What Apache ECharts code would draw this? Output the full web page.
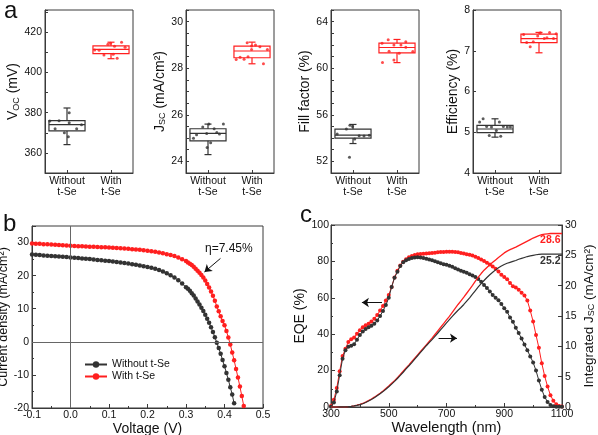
<!DOCTYPE html>
<html><head><meta charset="utf-8">
<script src="https://cdn.jsdelivr.net/npm/echarts@6/dist/echarts.min.js"></script>
<style>html,body{margin:0;padding:0;background:#fff}#c{width:598px;height:435px}</style>
</head><body><div id="c"></div><script>
const FONT = "'Liberation Sans', Arial, Helvetica, sans-serif";
const BLACK = '#333333';
const RED = '#ff1f1f';
const AXIS = '#3a3a3a';
const TXT = '#111111';

// ---------- panel a ----------
const groupLabels = ['Without\nt-Se', 'With\nt-Se'];
// box stats: [min, Q1, median, Q3, max]
const vocBox = [[364.1, 370.9, 374.0, 376.0, 382.3], [406.8, 409.3, 411.4, 413.2, 415.0]];
const jscBox = [[24.29, 24.88, 25.2, 25.4, 25.6], [28.19, 28.45, 28.74, 28.95, 29.12]];
const ffBox  = [[53.53, 53.99, 54.25, 54.77, 55.17], [60.48, 61.32, 61.78, 62.15, 62.47]];
const effBox = [[4.88, 4.99, 5.08, 5.17, 5.33], [6.95, 7.2, 7.3, 7.41, 7.45]];
// individual devices [x position within group axis 0..2, value]
const vocPtsWithout = [[0.11,375.8],[0.32,376],[0.23,372],[0.55,375],[0.44,370],[0.53,368],[0.72,372],[0.83,374],[0.55,380]];
const vocPtsWith = [[1.13,411.1],[1.23,411],[1.34,408.6],[1.43,414],[1.49,414.5],[1.58,413],[1.64,407.0],[1.74,415],[1.82,412.5],[1.55,409]];
const jscPtsWithout = [[0.17,24.99],[0.24,25.14],[0.38,25.48],[0.48,24.6],[0.56,24.8],[0.47,25.2],[0.64,25.4],[0.7,25.24],[0.76,25.18],[0.85,25.6],[0.52,25.6]];
const jscPtsWith = [[1.14,28.37],[1.23,28.47],[1.32,28.39],[1.41,28.49],[1.39,29.09],[1.49,28.95],[1.58,29.0],[1.49,28.8],[1.68,28.92],[1.85,28.8],[1.76,28.19]];
const ffPtsWithout = [[0.14,54.34],[0.35,54.77],[0.49,55.0],[0.43,55.1],[0.54,53.93],[0.64,54.2],[0.75,54.17],[0.87,54.25],[0.42,52.35]];
const ffPtsWith = [[1.17,60.5],[1.16,62.15],[1.3,62.44],[1.32,61.46],[1.43,62.0],[1.43,60.7],[1.55,61.29],[1.59,62.0],[1.7,61.8],[1.7,62.27],[1.86,61.43]];
const effPtsWithout = [[0.15,5.25],[0.23,5.33],[0.31,5.14],[0.42,5.13],[0.53,5.04],[0.63,4.9],[0.69,5.14],[0.78,5.13],[0.85,5.13],[0.6,5.25],[0.37,4.92]];
const effPtsWith = [[1.15,7.4],[1.22,7.2],[1.3,7.1],[1.37,7.22],[1.47,7.36],[1.53,7.44],[1.62,7.3],[1.74,7.45],[1.83,7.3],[1.89,7.42],[1.68,7.32]];

// ---------- panel b (J-V) ----------
const jvVoltage = [-0.10,-0.09,-0.08,-0.07,-0.06,-0.05,-0.04,-0.03,-0.02,-0.01,0.00,0.01,0.02,0.03,0.04,0.05,0.06,0.07,0.08,0.09,0.10,0.11,0.12,0.13,0.14,0.15,0.16,0.17,0.18,0.19,0.20,0.21,0.22,0.23,0.24,0.25,0.26,0.27,0.28,0.29,
  0.300,0.305,0.310,0.315,0.320,0.325,0.330,0.335,0.340,0.345,0.350,0.355,0.360,0.365,0.370,0.375,0.380,0.385,0.390,0.395,0.400,0.405,0.410,0.415,0.420,0.425,0.430,0.435,0.440,0.445,0.450];
const jvWithout = [26.4,26.3,26.2,26.1,26.0,25.95,25.85,25.75,25.7,25.6,
  25.5,25.4,25.3,25.2,25.1,25.0,24.9,24.75,24.65,24.5,
  24.4,24.25,24.1,23.95,23.8,23.65,23.45,23.3,23.1,22.85,
  22.6,22.35,22.05,21.7,21.25,20.7,20.1,19.4,18.6,17.6,
  16.5,16.0,15.4,14.7,14.0,13.1,12.2,11.3,10.3,9.3,8.2,7.0,5.8,4.4,3.0,1.4,-0.3,-1.9,-3.6,-5.5,-7.4,-9.4,-11.5,-13.7,-15.9,-18.6,null,null,null,null,null];
const jvWith = [29.7,29.65,29.6,29.5,29.45,29.4,29.3,29.25,29.2,29.1,
  29.0,28.95,28.9,28.85,28.8,28.75,28.7,28.65,28.6,28.55,
  28.5,28.4,28.35,28.25,28.2,28.1,28.0,27.9,27.8,27.65,
  27.5,27.35,27.2,27.0,26.8,26.5,26.2,25.9,25.5,24.95,
  24.4,24.0,23.6,23.2,22.7,22.1,21.5,20.9,20.2,19.4,18.5,17.5,16.4,15.2,13.9,12.4,10.7,9.2,7.7,6.3,5.0,3.3,1.3,-0.8,-3.2,-5.6,-8.2,-10.8,-13.5,-16.4,-19.4];

// ---------- panel c (EQE) ----------
const wavelength = [300,310,320,330,340,350,360,370,380,390,400,410,420,430,440,450,460,470,480,490,500,510,520,530,540,550,560,570,580,590,600,610,620,630,640,650,660,670,680,690,700,710,720,730,740,750,760,770,780,790,800,810,820,830,840,850,860,870,880,890,900,910,920,930,940,950,960,970,980,990,1000,1010,1020,1030,1040,1050,1060,1070,1080,1090,1100];
const eqeWith = [0.5,4,10.5,19.6,28,32,35.7,37.2,38.2,40.2,42.2,43.8,44.9,45.8,47,48.5,50.5,53,55.5,58.5,61.5,66,71.2,74.8,77.8,79.8,81.2,82.3,83,83.5,83.9,84.1,84.2,84.3,84.5,84.6,84.8,85,85.1,85.2,85.3,85.3,85.3,85.2,85,84.6,84.3,83.9,83.6,83.2,82.5,81.8,81,80.2,79.3,78.3,77.2,75.9,74.4,72.6,71.4,70.2,68.2,66.4,65.6,64.4,62.8,61.2,58.5,53,47,39.5,32.5,24,17,11.2,6.5,3.5,1.5,0.6,0.3];
const eqeWithout = [0.2,2.5,8.5,17.5,26.5,31.2,33.1,33.6,34.5,37,39.5,41.5,42.8,43.8,44.6,45.7,47.5,50,52.8,56,60,66,71,74.3,77.5,79.5,80.6,81.3,81.8,82.2,82.3,82.1,81.8,81.4,81,80.6,80.1,79.6,79,78.5,78.1,77.6,77,76.3,75.5,74.9,74.3,73.7,73,72.3,71.4,70.3,68.8,67.1,65.4,63.5,61.6,60,58.7,56.6,54.2,52.3,49.2,46.8,43.6,40.6,37.6,34.3,31.2,27.8,24.5,20,14.5,9.5,5.5,2.8,1.1,0.4,0.2,0.1,0.1];
const jscIntWith = [0,0,0,0.01,0.02,0.04,0.07,0.12,0.2,0.3,0.42,0.58,0.8,1.05,1.32,1.62,1.95,2.28,2.65,3.05,3.45,3.9,4.35,4.85,5.35,5.9,6.45,6.95,7.5,8.05,8.6,9.15,9.7,10.25,10.8,11.35,11.95,12.55,13.15,13.75,14.35,14.95,15.6,16.25,16.9,17.5,18.1,18.75,19.4,20.05,20.75,21.4,22.0,22.55,23.0,23.45,23.85,24.25,24.65,25.0,25.4,25.7,25.95,26.15,26.35,26.6,26.85,27.1,27.35,27.6,27.85,28.05,28.25,28.4,28.5,28.55,28.6,28.6,28.6,28.6,28.6];
const jscIntWithout = [0,0,0,0.01,0.02,0.04,0.07,0.11,0.18,0.27,0.39,0.54,0.75,0.99,1.25,1.54,1.86,2.18,2.54,2.93,3.33,3.77,4.22,4.7,5.2,5.73,6.27,6.8,7.33,7.9,8.45,9.0,9.55,10.1,10.6,11.1,11.65,12.2,12.75,13.3,13.85,14.4,14.95,15.45,15.95,16.4,16.9,17.45,18.0,18.6,19.2,19.8,20.35,20.85,21.35,21.8,22.2,22.6,22.95,23.25,23.5,23.7,23.85,24.0,24.15,24.35,24.5,24.65,24.8,24.9,25.0,25.1,25.15,25.2,25.2,25.2,25.2,25.2,25.2,25.2,25.2];

// ---------- build ----------
const grids = [], xAxes = [], yAxes = [], series = [];
const axisLineS = {show: true, onZero: false, lineStyle: {color: AXIS, width: 1}};
const tickS = (len) => ({show: true, inside: true, length: len, lineStyle: {color: AXIS, width: 1}});
const labelS = (extra) => Object.assign({fontFamily: FONT, fontSize: 10.5, color: TXT}, extra || {});
const subRich = {s: {fontFamily: FONT, fontSize: 9, color: TXT, verticalAlign: 'bottom'}};

function boxRenderer(params, api) {
  const x = api.value(0);
  const vals = [1, 2, 3, 4, 5].map(k => api.value(k));
  const color = params.dataIndex === 0 ? BLACK : RED;
  const half = api.size([1, 0])[0] * 0.41;
  const cx = api.coord([x, vals[2]])[0];
  const y = vals.map(v => api.coord([x, v])[1]);
  const cap = 3.5;
  const ls = {stroke: color, lineWidth: 1.2, fill: null};
  return {type: 'group', children: [
    {type: 'rect', shape: {x: cx - half, y: y[3], width: 2 * half, height: y[1] - y[3]}, style: {stroke: color, fill: 'rgba(0,0,0,0)', lineWidth: 1.2}},
    {type: 'line', shape: {x1: cx - half, y1: y[2], x2: cx + half, y2: y[2]}, style: ls},
    {type: 'line', shape: {x1: cx, y1: y[3], x2: cx, y2: y[4]}, style: ls},
    {type: 'line', shape: {x1: cx, y1: y[1], x2: cx, y2: y[0]}, style: ls},
    {type: 'line', shape: {x1: cx - cap, y1: y[4], x2: cx + cap, y2: y[4]}, style: ls},
    {type: 'line', shape: {x1: cx - cap, y1: y[0], x2: cx + cap, y2: y[0]}, style: ls}
  ]};
}

const aLeft = [45, 186, 331, 473];
const aInfo = [
  {name: 'V{s|OC} (mV)', min: 350, max: 431, interval: 10, gap: 24,
   fmt: v => (Math.round(v) % 20 === 0 && Math.abs(v - Math.round(v)) < 1e-6) ? String(Math.round(v)) : '',
   box: vocBox, pw: vocPtsWithout, pr: vocPtsWith},
  {name: 'J{s|SC} (mA/cm²)', min: 23.5, max: 30.5, interval: 0.5, gap: 15,
   fmt: v => { const r = Math.round(v); return (Math.abs(v - r) < 1e-6 && r % 2 === 0) ? String(r) : ''; },
   box: jscBox, pw: jscPtsWithout, pr: jscPtsWith},
  {name: 'Fill factor (%)', min: 51, max: 65, interval: 1, gap: 14,
   fmt: v => { const r = Math.round(v); return ((r - 52) % 4 === 0 && r <= 64) ? String(r) : ''; },
   box: ffBox, pw: ffPtsWithout, pr: ffPtsWith},
  {name: 'Efficiency (%)', min: 4, max: 8, interval: 1, gap: 10,
   fmt: v => String(Math.round(v)),
   box: effBox, pw: effPtsWithout, pr: effPtsWith}
];
aInfo.forEach((p, i) => {
  grids.push({left: aLeft[i], top: 10, width: 88, height: 163, show: true, borderColor: AXIS, borderWidth: 1, backgroundColor: 'rgba(0,0,0,0)', outerBoundsMode: 'none', containLabel: false});
  xAxes.push({type: 'category', gridIndex: i, data: groupLabels, axisLine: axisLineS, axisTick: Object.assign(tickS(3), {alignWithLabel: true}),
    axisLabel: labelS({margin: 3, lineHeight: 11, interval: 0}), splitLine: {show: false}});
  xAxes.push({type: 'value', gridIndex: i, min: 0, max: 2, show: false});
  yAxes.push({type: 'value', gridIndex: i, min: p.min, max: p.max, interval: p.interval,
    name: p.name, nameLocation: 'middle', nameRotate: 90, nameGap: p.gap,
    nameTextStyle: {fontFamily: FONT, fontSize: 14, color: TXT, rich: subRich},
    axisLine: axisLineS, axisTick: tickS(3), axisLabel: labelS({margin: 3, formatter: p.fmt, showMinLabel: true, showMaxLabel: true}),
    splitLine: {show: false}});
  series.push({type: 'custom', name: 'box' + i, xAxisIndex: 2 * i + 1, yAxisIndex: i,
    data: p.box.map((b, k) => [k + 0.5].concat(b)), encode: {x: 0, y: [1, 2, 3, 4, 5]},
    renderItem: boxRenderer, silent: true, z: 2});
  series.push({type: 'scatter', name: 'ptsW' + i, xAxisIndex: 2 * i + 1, yAxisIndex: i, data: p.pw,
    symbol: 'circle', symbolSize: 3, itemStyle: {color: BLACK}, silent: true, z: 3});
  series.push({type: 'scatter', name: 'ptsR' + i, xAxisIndex: 2 * i + 1, yAxisIndex: i, data: p.pr,
    symbol: 'circle', symbolSize: 3, itemStyle: {color: RED}, silent: true, z: 3});
});

// panel b
grids.push({left: 32, top: 226, width: 231, height: 182, show: true, borderColor: AXIS, borderWidth: 1, backgroundColor: 'rgba(0,0,0,0)', outerBoundsMode: 'none', containLabel: false});
xAxes.push({type: 'value', gridIndex: 4, min: -0.1, max: 0.5, interval: 0.1,
  name: 'Voltage (V)', nameLocation: 'middle', nameGap: 12, nameTextStyle: {fontFamily: FONT, fontSize: 14, color: TXT},
  axisLine: axisLineS, axisTick: tickS(4), minorTick: {show: true, splitNumber: 2, length: 2, lineStyle: {color: AXIS}},
  axisLabel: labelS({margin: 2, formatter: v => v.toFixed(1), showMinLabel: true, showMaxLabel: true}), splitLine: {show: false}});
yAxes.push({type: 'value', gridIndex: 4, min: -20, max: 35, interval: 10,
  name: 'Current density (mA/cm²)', nameLocation: 'middle', nameRotate: 90, nameGap: 16,
  nameTextStyle: {fontFamily: FONT, fontSize: 12.5, color: TXT},
  axisLine: axisLineS, axisTick: tickS(4), minorTick: {show: true, splitNumber: 2, length: 2, lineStyle: {color: AXIS}},
  axisLabel: labelS({margin: 3, formatter: v => (v > 30 ? '' : String(v))}), splitLine: {show: false}});
const pairs = (xs, ys) => xs.map((x, k) => [x, ys[k]]).filter(p => p[1] !== null);
series.push({type: 'line', name: 'Without t-Se', xAxisIndex: 8, yAxisIndex: 4, data: pairs(jvVoltage, jvWithout),
  symbol: 'circle', symbolSize: 4.5, showSymbol: true, showAllSymbol: true,
  lineStyle: {color: BLACK, width: 1}, itemStyle: {color: BLACK}, z: 3,
  markLine: {silent: true, symbol: ['none', 'none'], label: {show: false}, animation: false,
    lineStyle: {color: '#666', width: 1, type: 'solid'}, emphasis: {disabled: true},
    data: [{xAxis: 0}, {yAxis: 0}]}});
series.push({type: 'line', name: 'With t-Se', xAxisIndex: 8, yAxisIndex: 4, data: pairs(jvVoltage, jvWith),
  symbol: 'circle', symbolSize: 4.5, showSymbol: true, showAllSymbol: true,
  lineStyle: {color: RED, width: 1}, itemStyle: {color: RED}, z: 4,
  markLine: {silent: true, symbol: ['none', 'arrow'], symbolSize: 7, label: {show: false}, animation: false,
    lineStyle: {color: TXT, width: 1, type: 'solid'}, emphasis: {disabled: true},
    data: [[{coord: [0.3895, 25.2]}, {coord: [0.348, 21.1]}]]}});

// panel c
grids.push({left: 331, top: 225, width: 231, height: 182, show: true, borderColor: AXIS, borderWidth: 1, backgroundColor: 'rgba(0,0,0,0)', outerBoundsMode: 'none', containLabel: false});
xAxes.push({type: 'value', gridIndex: 5, min: 300, max: 1100, interval: 200,
  name: 'Wavelength (nm)', nameLocation: 'middle', nameGap: 12, nameTextStyle: {fontFamily: FONT, fontSize: 14.5, color: TXT},
  axisLine: axisLineS, axisTick: tickS(4), minorTick: {show: true, splitNumber: 2, length: 2, lineStyle: {color: AXIS}},
  axisLabel: labelS({margin: 2, formatter: v => String(v), showMinLabel: true, showMaxLabel: true}), splitLine: {show: false}});
yAxes.push({type: 'value', gridIndex: 5, min: 0, max: 100, interval: 20,
  name: 'EQE (%)', nameLocation: 'middle', nameRotate: 90, nameGap: 18,
  nameTextStyle: {fontFamily: FONT, fontSize: 14, color: TXT},
  axisLine: axisLineS, axisTick: tickS(4), minorTick: {show: true, splitNumber: 2, length: 2, lineStyle: {color: AXIS}},
  axisLabel: labelS({margin: 2}), splitLine: {show: false}});
yAxes.push({type: 'value', gridIndex: 5, position: 'right', min: 0, max: 30, interval: 5,
  name: 'Integrated J{s|SC} (mA/cm²)', nameLocation: 'middle', nameRotate: 90, nameGap: 20,
  nameTextStyle: {fontFamily: FONT, fontSize: 13.5, color: TXT, rich: subRich},
  axisLine: axisLineS, axisTick: tickS(4),
  axisLabel: labelS({margin: 3}), splitLine: {show: false}});
series.push({type: 'line', name: 'EQE with', xAxisIndex: 9, yAxisIndex: 5, data: pairs(wavelength, eqeWith),
  symbol: 'circle', symbolSize: 4, showSymbol: true, showAllSymbol: true,
  lineStyle: {color: RED, width: 1}, itemStyle: {color: RED}, z: 3,
  markLine: {silent: true, symbol: ['none', 'arrow'], symbolSize: 7, label: {show: false}, animation: false,
    lineStyle: {color: TXT, width: 1, type: 'solid'}, emphasis: {disabled: true},
    data: [[{coord: [476.6, 57.4]}, {coord: [407, 57.4]}]]}});
series.push({type: 'line', name: 'EQE without', xAxisIndex: 9, yAxisIndex: 5, data: pairs(wavelength, eqeWithout),
  symbol: 'circle', symbolSize: 4, showSymbol: true, showAllSymbol: true,
  lineStyle: {color: BLACK, width: 1}, itemStyle: {color: BLACK}, z: 4});
series.push({type: 'line', name: 'Jint with', xAxisIndex: 9, yAxisIndex: 6, data: pairs(wavelength, jscIntWith),
  showSymbol: false, lineStyle: {color: RED, width: 1.3}, itemStyle: {color: RED}, z: 5,
  markLine: {silent: true, symbol: ['none', 'arrow'], symbolSize: 7, label: {show: false}, animation: false,
    lineStyle: {color: TXT, width: 1, type: 'solid'}, emphasis: {disabled: true},
    data: [[{coord: [672.6, 11.35]}, {coord: [736.3, 11.35]}]]}});
series.push({type: 'line', name: 'Jint without', xAxisIndex: 9, yAxisIndex: 6, data: pairs(wavelength, jscIntWithout),
  showSymbol: false, lineStyle: {color: BLACK, width: 1.2}, itemStyle: {color: BLACK}, z: 5});

function txt(s, x, y, size, opts) {
  return Object.assign({type: 'text', x: x, y: y, silent: true, z: 100,
    style: Object.assign({text: s, fontFamily: FONT, fontSize: size, fill: TXT,
      align: 'left', textAlign: 'left', verticalAlign: 'middle', textVerticalAlign: 'middle'}, opts || {})});
}

const chart = echarts.init(document.getElementById('c'), null, {renderer: 'canvas'});
chart.setOption({
  animation: false,
  backgroundColor: '#fff',
  textStyle: {fontFamily: FONT},
  grid: grids, xAxis: xAxes, yAxis: yAxes, series: series,
  legend: {data: ['Without t-Se', 'With t-Se'], orient: 'vertical', left: 84, top: 359, padding: 0,
    itemWidth: 22, itemHeight: 8, itemGap: 1, selectedMode: false,
    textStyle: {fontFamily: FONT, fontSize: 10.5, color: TXT}},
  graphic: [
    txt('a', 4, 11.5, 24),
    txt('b', 3, 224, 24),
    txt('c', 300, 215, 24),
    txt('η=7.45%', 205, 249, 12),
    txt('28.6', 560.5, 240, 10.5, {fill: RED, fontWeight: 'bold', align: 'right', textAlign: 'right'}),
    txt('25.2', 560.5, 261, 10.5, {fill: BLACK, fontWeight: 'bold', align: 'right', textAlign: 'right'})
  ]
});
</script></body></html>
